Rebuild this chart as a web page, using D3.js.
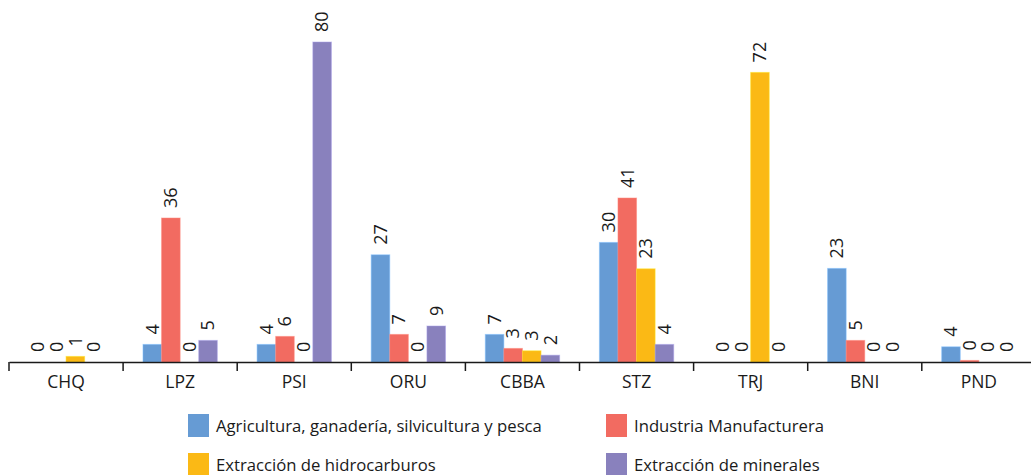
<!DOCTYPE html>
<html>
<head>
<meta charset="utf-8">
<script src="https://cdn.jsdelivr.net/npm/d3@7"></script>
<style>
  body { margin: 0; background: #fff; }
  svg { display: block; font-family: "Open Sans", sans-serif; }
</style>
</head>
<body>
<div id="chart"></div>
<script>
// departamentos
var categories = ["CHQ", "LPZ", "PSI", "ORU", "CBBA", "STZ", "TRJ", "BNI", "PND"];

var seriesNames = [
  "Agricultura, ganadería, silvicultura y pesca",
  "Industria Manufacturera",
  "Extracción de hidrocarburos",
  "Extracción de minerales"
];

// values, labels show them rounded
var agricultura  = [0, 4.4, 4.4, 26.8, 6.9, 29.9, 0, 23.4, 3.8];
var industria    = [0, 36, 6.4, 6.9, 3.4, 41, 0, 5.4, 0.4];
var hidrocarburo = [1.4, 0, 0, 0, 2.8, 23.3, 72.4, 0, 0];
var minerales    = [0, 5.4, 80, 9, 1.7, 4.4, 0, 0, 0];

var seriesValues = [agricultura, industria, hidrocarburo, minerales];
var colors = ["#669bd4", "#f26b61", "#fbb915", "#8981bd"];

var width = 1031, height = 475;
var baseY = 362;

var svg = d3.select("#chart").append("svg")
  .attr("width", width)
  .attr("height", height);

var x0 = d3.scaleBand().domain(categories).range([9, 9 + 9 * 114.1]).padding(0);
var x1 = d3.scaleBand().domain(d3.range(seriesNames.length))
  .range([0, x0.bandwidth()]).paddingInner(0).paddingOuter(1.07);
var y = d3.scaleLinear().domain([0, 80]).range([baseY, 42]);
var fmt = d3.format(".0f");

var groups = svg.selectAll("g.cat").data(categories).enter().append("g")
  .attr("class", "cat")
  .attr("transform", function(c) { return "translate(" + x0(c) + ",0)"; });

groups.selectAll("rect").data(function(c, i) {
    return seriesValues.map(function(s, k) { return { k: k, v: s[i] }; });
  }).enter().append("rect")
  .attr("x", function(d) { return x1(d.k); })
  .attr("y", function(d) { return y(d.v); })
  .attr("width", x1.bandwidth())
  .attr("height", function(d) { return baseY - y(d.v); })
  .attr("fill", function(d) { return colors[d.k]; })
  .attr("stroke", function(d) { return d3.color(colors[d.k]).brighter(0.6); })
  .attr("stroke-opacity", 0.5)
  .attr("stroke-width", 1);

groups.selectAll("text.lbl").data(function(c, i) {
    return seriesValues.map(function(s, k) { return { k: k, v: s[i] }; });
  }).enter().append("text")
  .attr("class", "lbl")
  .attr("transform", function(d) {
    return "translate(" + (x1(d.k) + x1.bandwidth() / 2) + "," + (y(d.v) - 10) + ") rotate(-90)";
  })
  .attr("dy", "0.35em")
  .attr("font-size", 18)
  .attr("fill", "#1a1a1a")
  .text(function(d) { return fmt(d.v); });

// axis
var xAxis = d3.axisBottom(x0).tickSize(0).tickSizeOuter(0).tickPadding(14);
var axisG = svg.append("g")
  .attr("transform", "translate(0," + baseY + ")")
  .call(xAxis);
axisG.select(".domain").attr("stroke", "#1a1a1a").attr("stroke-width", 1.5);
axisG.selectAll(".tick text").attr("font-size", 17.5).attr("fill", "#1a1a1a")
  .style("font-family", "Open Sans, sans-serif");

// separators between categories
axisG.selectAll("line.sep").data(categories.concat(["end"])).enter().append("line")
  .attr("class", "sep")
  .attr("x1", function(c) { return c === "end" ? x0.range()[1] : x0(c); })
  .attr("x2", function(c) { return c === "end" ? x0.range()[1] : x0(c); })
  .attr("y1", 0).attr("y2", 9)
  .attr("stroke", "#1a1a1a").attr("stroke-width", 1.5);

// legend
var legendPos = [[188, 414], [606, 414], [188, 453], [606, 453]];
var legend = svg.selectAll("g.leg").data(seriesNames).enter().append("g")
  .attr("class", "leg")
  .attr("transform", function(d, i) { return "translate(" + legendPos[i][0] + "," + legendPos[i][1] + ")"; });
legend.append("rect")
  .attr("width", 21).attr("height", 23)
  .attr("fill", function(d, i) { return colors[i]; });
legend.append("text")
  .attr("x", 28).attr("y", 12)
  .attr("dy", "0.35em")
  .attr("font-size", 16.7)
  .attr("fill", "#1a1a1a")
  .text(function(d) { return d; });
</script>
</body>
</html>
